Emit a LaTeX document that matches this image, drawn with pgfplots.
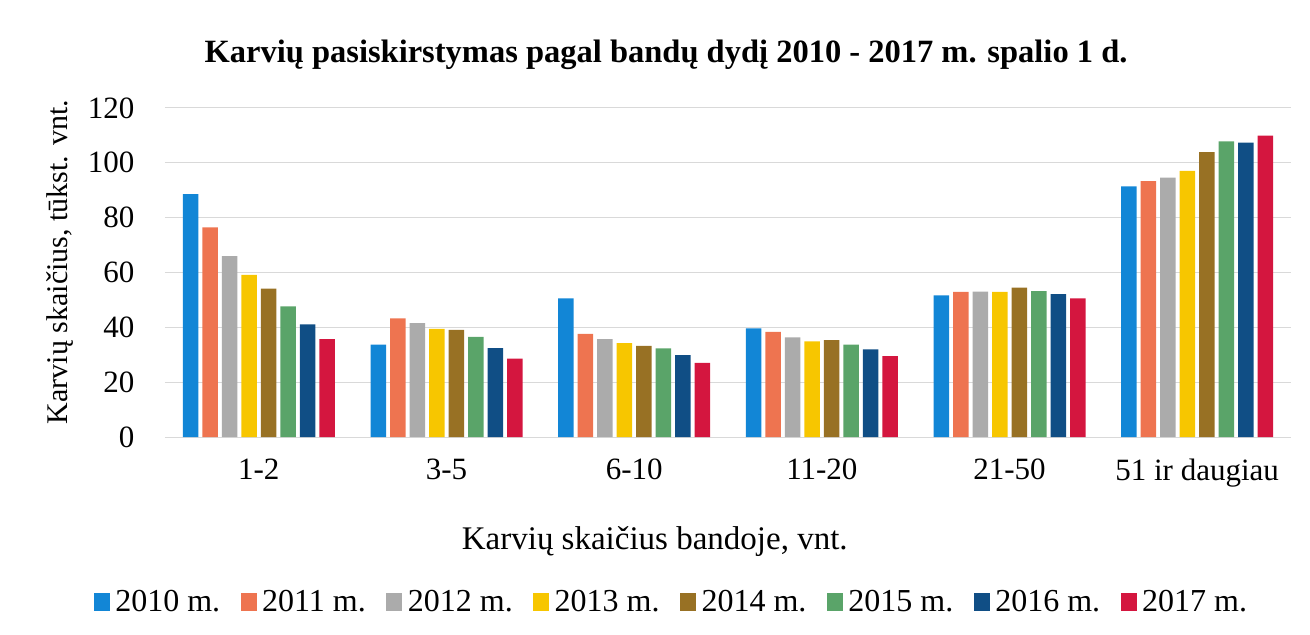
\documentclass[border=0pt]{standalone}
\usepackage{fontspec}
\setmainfont{Liberation Serif}
\usepackage{pgfplots}
\pgfplotsset{compat=1.18}
\definecolor{c1}{HTML}{1286D6}
\definecolor{c2}{HTML}{EE7450}
\definecolor{c3}{HTML}{ABABAB}
\definecolor{c4}{HTML}{F7C600}
\definecolor{c5}{HTML}{987124}
\definecolor{c6}{HTML}{5AA469}
\definecolor{c7}{HTML}{104E85}
\definecolor{c8}{HTML}{D4163F}
\definecolor{gridc}{HTML}{D9D9D9}
\begin{document}
\begin{tikzpicture}
\path[use as bounding box] (-165bp,-198bp) rectangle (1145bp,437bp);
\begin{axis}[
  at={(0,0)}, anchor=south west,
  scale only axis, width=1126bp, height=329bp,
  xmin=-0.5, xmax=5.5, ymin=0, ymax=120,
  ybar=4bp, bar width=15.5bp,
  xtick={0,...,5}, xticklabels={1-2,3-5,6-10,11-20,21-50,51 ir daugiau},
  ytick={0,20,...,120},
  axis x line*=bottom, axis y line*=left,
  x axis line style={draw=gridc, line width=1bp, -},
  y axis line style={draw=none},
  major tick length=0pt,
  ymajorgrids, grid style={draw=gridc, line width=1bp},
  tick label style={font=\fontsize{31bp}{36bp}\selectfont},
  /pgf/number format/assume math mode=true,
  xticklabel style={yshift=-18bp},
  yticklabel style={xshift=-27bp},
  title={\textbf{Karvių pasiskirstymas pagal bandų dydį 2010 - 2017 m. spalio 1 d.}},
  title style={at={(0.445,1.143)}, anchor=center, font=\fontsize{32.5bp}{36bp}\selectfont},
  xlabel={Karvių skaičius bandoje, vnt.},
  xlabel style={at={(0.435,-0.318)}, anchor=center, font=\fontsize{33bp}{37bp}\selectfont},
  ylabel={Karvių skaičius, tūkst. vnt.},
  ylabel style={at={(-0.0932,0.532)}, anchor=center, rotate=0, font=\fontsize{30bp}{34bp}\selectfont},
  legend style={at={(0.4498,-0.5)}, anchor=center, draw=none, fill=none,
    font=\fontsize{32bp}{36bp}\selectfont, legend columns=8,
    /tikz/every odd column/.append style={column sep=3.5bp},
    /tikz/every even column/.append style={column sep=18.5bp},
    legend cell align=left, inner sep=0pt},
  legend image code/.code={\fill[#1,draw=none] (0bp,-9bp) rectangle (16bp,9bp);},
  every axis plot/.append style={draw=none},
]
\addplot[fill=c1] coordinates {(0,88.6) (1,33.7) (2,50.6) (3,39.6) (4,51.7) (5,91.4)};
\addplot[fill=c2] coordinates {(0,76.5) (1,43.3) (2,37.6) (3,38.3) (4,52.9) (5,93.3)};
\addplot[fill=c3] coordinates {(0,66.0) (1,41.5) (2,35.7) (3,36.3) (4,53.0) (5,94.6)};
\addplot[fill=c4] coordinates {(0,59.1) (1,39.4) (2,34.2) (3,34.9) (4,52.9) (5,97.1)};
\addplot[fill=c5] coordinates {(0,54.1) (1,39.1) (2,33.2) (3,35.3) (4,54.5) (5,103.9)};
\addplot[fill=c6] coordinates {(0,47.6) (1,36.5) (2,32.3) (3,33.7) (4,53.2) (5,107.8)};
\addplot[fill=c7] coordinates {(0,41.1) (1,32.4) (2,29.9) (3,32.0) (4,52.1) (5,107.4)};
\addplot[fill=c8] coordinates {(0,35.7) (1,28.6) (2,27.0) (3,29.5) (4,50.6) (5,109.9)};
\legend{2010 m.,2011 m.,2012 m.,2013 m.,2014 m.,2015 m.,2016 m.,2017 m.}
\end{axis}
\end{tikzpicture}
\end{document}
